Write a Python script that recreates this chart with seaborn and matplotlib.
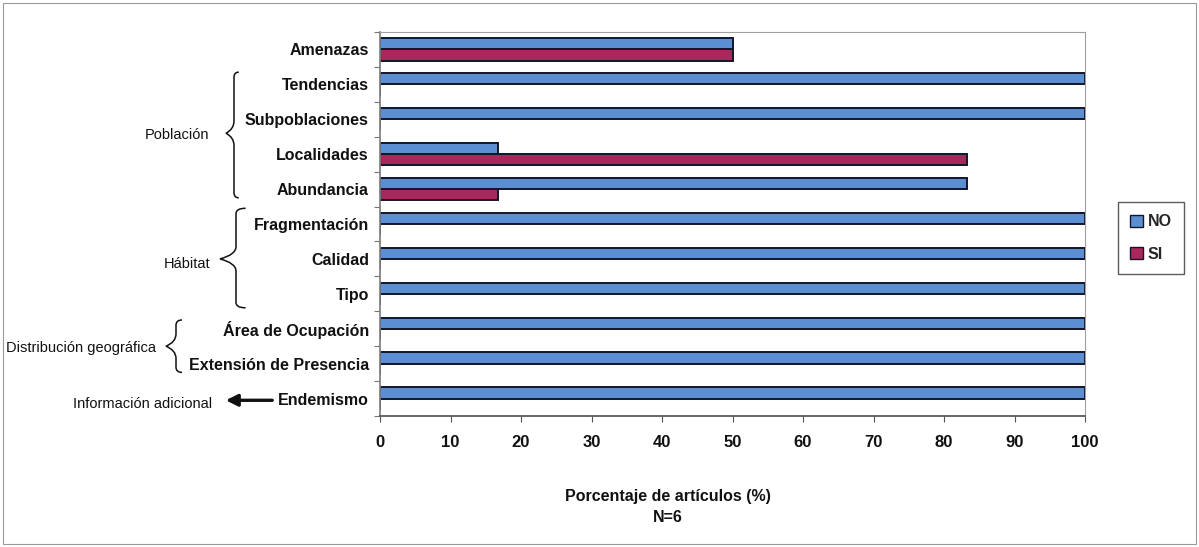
import numpy as np
import pandas as pd
import matplotlib
matplotlib.use("Agg")
import matplotlib.pyplot as plt
import matplotlib.transforms as mtransforms
from matplotlib.path import Path
from matplotlib.patches import PathPatch, Patch, FancyArrowPatch, Rectangle
import seaborn as sns

# Criteria evaluated in each article
categories = ["Amenazas", "Tendencias", "Subpoblaciones", "Localidades", "Abundancia",
              "Fragmentación", "Calidad", "Tipo", "Área de Ocupación",
              "Extensión de Presencia", "Endemismo"]
no_values = [50, 100, 100, 16.7, 83.3, 100, 100, 100, 100, 100, 100]
si_values = [50, 0, 0, 83.3, 16.7, 0, 0, 0, 0, 0, 0]
series = ["NO", "SI"]
x_ticks = [0, 10, 20, 30, 40, 50, 60, 70, 80, 90, 100]

colors = {"NO": "#5b8fd2", "SI": "#a8285c"}

df = pd.DataFrame({
    "categoria": categories * 2,
    "respuesta": ["NO"] * len(categories) + ["SI"] * len(categories),
    "porcentaje": no_values + si_values,
})

sns.set_theme(style="white")
plt.rcParams["font.family"] = ["Liberation Sans", "DejaVu Sans"]

W, H = 1199, 547
fig = plt.figure(figsize=(W / 100, H / 100), dpi=100)
ax = fig.add_axes([380 / W, 1 - 416 / H, 705 / W, 384 / H])

sns.barplot(data=df, x="porcentaje", y="categoria", hue="respuesta",
            order=categories, hue_order=series, palette=colors,
            orient="h", width=0.64, edgecolor="#15152a", linewidth=1.4,
            saturation=1, ax=ax, legend=False)

ax.set_xlim(0, 100)
ax.set_ylim(len(categories) - 0.5, -0.5)
ax.set_xticks(x_ticks)
ax.set_xticklabels([str(t) for t in x_ticks], fontsize=12, fontweight="bold",
                   color="#111111")
ax.tick_params(axis="x", which="major", direction="out", length=4, width=0.8,
               color="#555555", pad=10, bottom=True)
ax.set_yticks(range(len(categories)))
ax.set_yticklabels(categories, fontsize=11.5, fontweight="bold", color="#111111")
ax.tick_params(axis="y", which="major", length=0, pad=8)
ax.set_yticks(np.arange(-0.5, len(categories), 1), minor=True)
ax.tick_params(axis="y", which="minor", direction="out", length=4, width=0.8,
               color="#777777", left=True)
ax.set_ylabel("")
ax.set_xlabel("")

for side in ["top", "right"]:
    ax.spines[side].set_color("#a0a0a0")
    ax.spines[side].set_linewidth(0.8)
ax.spines["left"].set_color("#808080")
ax.spines["bottom"].set_color("#555555")
for s in ax.spines.values():
    s.set_visible(True)

# Axis title
fig.text(668 / W, 1 - 496 / H, "Porcentaje de artículos (%)", fontsize=11.5,
         fontweight="bold", ha="center", va="center", color="#111111")
fig.text(668 / W, 1 - 518 / H, "N=6", fontsize=11.5,
         fontweight="bold", ha="center", va="center", color="#111111")

# Legend
handles = [Patch(facecolor=colors[s], edgecolor="#15152a", label=s) for s in series]
fig.legend(handles=handles, loc="center", bbox_to_anchor=(1151 / W, 1 - 238 / H),
           frameon=True, fancybox=False, edgecolor="#333333",
           prop={"weight": "bold", "size": 11.5}, handlelength=0.8, handleheight=0.8,
           handletextpad=0.3, labelspacing=1.1, borderpad=0.75)

# Group braces: x in figure fraction, y in category units
trans = mtransforms.blended_transform_factory(fig.transFigure, ax.transData)


def brace(x_tip, x_body, y0, y1, ym, lw=1.1):
    xt, xb = x_tip / W, x_body / W
    xe = xb + (xb - xt) * 0.6
    verts = [
        (xe, y0), (xb, y0), (xb, y0 + 0.15), (xb, y0 + 0.35),
        (xb, ym - 0.35), (xb, ym - 0.12), (xt, ym),
        (xb, ym + 0.12), (xb, ym + 0.35),
        (xb, y1 - 0.35), (xb, y1 - 0.15), (xb, y1), (xe, y1),
    ]
    codes = [Path.MOVETO, Path.CURVE3, Path.CURVE3, Path.LINETO,
             Path.LINETO, Path.CURVE3, Path.CURVE3,
             Path.CURVE3, Path.CURVE3,
             Path.LINETO, Path.LINETO, Path.CURVE3, Path.CURVE3]
    fig.add_artist(PathPatch(Path(verts, codes), transform=trans, fill=False,
                             edgecolor="#111111", lw=lw, clip_on=False))


brace(226, 234, 0.65, 4.25, 2.4)
brace(220, 236, 4.55, 7.4, 6.0)
brace(166, 176, 7.75, 9.25, 8.5)

label_kw = dict(fontsize=10.5, ha="center", va="center", transform=trans, color="#111111")
fig.text(177 / W, 2.45, "Población", **label_kw)
fig.text(187 / W, 6.15, "Hábitat", **label_kw)
fig.text(81 / W, 8.55, "Distribución geográfica", **label_kw)
fig.text(143 / W, 10.15, "Información adicional", **label_kw)

fig.add_artist(FancyArrowPatch(
    (275 / W, 10.05), (223 / W, 10.05), transform=trans,
    arrowstyle="-|>,head_length=7,head_width=3.5", lw=2.4, color="#111111",
    mutation_scale=1, clip_on=False))

# Outer frame of the figure
fig.add_artist(Rectangle((3 / W, 3 / H), 1 - 6 / W, 1 - 6 / H,
                         transform=fig.transFigure, fill=False,
                         edgecolor="#9a9a9a", lw=0.8))

fig.savefig("out.png", dpi=100, facecolor="white")
